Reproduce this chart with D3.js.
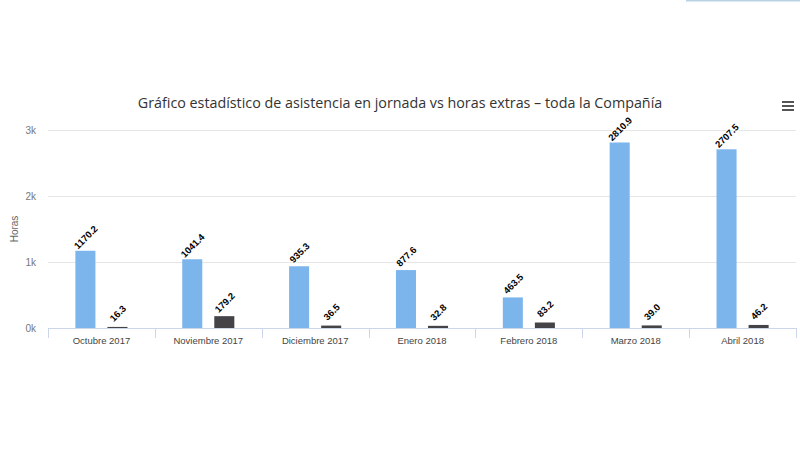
<!DOCTYPE html>
<html><head><meta charset="utf-8">
<script src="https://cdn.jsdelivr.net/npm/d3@7"></script>
<style>body{margin:0;background:#fff}svg{display:block}</style>
</head><body>
<svg id="c" width="800" height="450"></svg>
<script>
const categories = ["Octubre 2017","Noviembre 2017","Diciembre 2017","Enero 2018","Febrero 2018","Marzo 2018","Abril 2018"];
const asistencia = [1170.2, 1041.4, 935.3, 877.6, 463.5, 2810.9, 2707.5];
const horasExtras = [16.3, 179.2, 36.5, 32.8, 83.2, 39.0, 46.2];
const seriesNames = ["Asistencia en jornada","Horas extras"];
const seriesColors = ["#7cb5ec","#434348"];
const yTicks = [0, 1000, 2000, 3000];
const title = "Gráfico estadístico de asistencia en jornada vs horas extras – toda la Compañía";
const yTitle = "Horas";

const svg = d3.select("#c");
const font = "'Liberation Sans', Arial, sans-serif";
const m = {l:48, r:4, t:130, b:122};
const W = 800, H = 450;
const x = d3.scaleBand().domain(categories).range([m.l, W-m.r]);
const bw = x.bandwidth();
const xs = d3.scaleBand().domain(seriesNames).range([bw*0.2, bw*0.8]).paddingInner(0.375).paddingOuter(0.1875);
const y = d3.scaleLinear().domain([0,3000]).range([H-m.b, m.t]);

// faint top strip
svg.append("rect").attr("x",686).attr("y",0).attr("width",114).attr("height",1.5).attr("fill","#b9d3e4");

// title
svg.append("text").attr("x",400).attr("y",108).attr("text-anchor","middle")
  .attr("font-family","'Open Sans', sans-serif").attr("font-size",14.3).attr("fill","#333").text(title);

// menu icon
[0,4,8].forEach(d=>svg.append("rect").attr("x",782).attr("y",101+d).attr("width",12).attr("height",2).attr("fill","#555"));

// grid
svg.append("g").selectAll("line").data(yTicks.filter(d=>d>0)).join("line")
  .attr("x1",m.l).attr("x2",W-m.r).attr("y1",d=>y(d)+0.5).attr("y2",d=>y(d)+0.5)
  .attr("stroke","#e6e6e6");

// y axis labels
const ya = svg.append("g").attr("transform",`translate(${m.l},0)`)
  .call(d3.axisLeft(y).tickValues(yTicks).tickFormat(d=>(d/1000)+"k").tickSize(0).tickPadding(12));
ya.select(".domain").remove();
ya.selectAll("text").style("fill","#777").attr("font-family",font).attr("font-size",10);

svg.append("text").attr("transform",`translate(18,${(y(0)+y(3000))/2}) rotate(-90)`)
  .attr("text-anchor","middle").attr("font-family",font).attr("font-size",10).attr("fill","#666").text(yTitle);

// bars
const data = categories.map((c,i)=>({c, vals:[asistencia[i], horasExtras[i]]}));
const groups = svg.append("g").selectAll("g").data(data).join("g")
  .attr("transform",d=>`translate(${x(d.c)},0)`);
groups.selectAll("rect").data(d=>d.vals.map((v,j)=>({v,s:seriesNames[j],j}))).join("rect")
  .attr("x",d=>xs(d.s)).attr("width",xs.bandwidth())
  .attr("y",d=>y(d.v)).attr("height",d=>y(0)-y(d.v))
  .attr("fill",d=>seriesColors[d.j]);
groups.selectAll("text").data(d=>d.vals.map((v,j)=>({v,s:seriesNames[j],j}))).join("text")
  .attr("transform",d=>`translate(${xs(d.s)+xs.bandwidth()/2+1},${y(d.v)-13}) rotate(-45)`)
  .attr("text-anchor","middle").attr("dominant-baseline","middle")
  .attr("font-family",font).attr("font-size",9.5).attr("font-weight","bold")
  .attr("fill","#000").attr("stroke","#fff").attr("stroke-width",2).attr("paint-order","stroke")
  .text(d=>d.v.toFixed(1));

// x axis
const xa = svg.append("g").attr("transform",`translate(0,${y(0)})`)
  .call(d3.axisBottom(x).tickSize(0).tickPadding(9));
xa.select(".domain").attr("stroke","#ccd6eb");
xa.selectAll("text").style("fill","#444").attr("font-family",font).attr("font-size",9.5);
svg.append("g").selectAll("line").data(categories.concat([null])).join("line")
  .attr("x1",(d,i)=>Math.round(m.l + i*bw)+0.5).attr("x2",(d,i)=>Math.round(m.l + i*bw)+0.5)
  .attr("y1",y(0)).attr("y2",y(0)+10).attr("stroke","#ccd6eb");
</script>
</body></html>
